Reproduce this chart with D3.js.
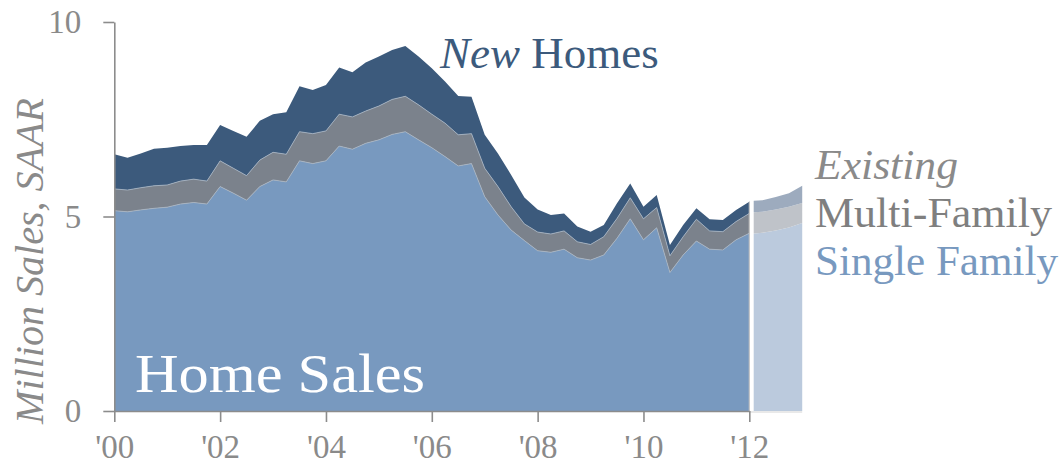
<!DOCTYPE html>
<html>
<head>
<meta charset="utf-8">
<script src="https://d3js.org/d3.v7.min.js"></script>
<style>
  body { margin: 0; background: #fff; }
  text { font-family: "Liberation Serif", "DejaVu Serif", serif; }
</style>
</head>
<body>
<svg width="1064" height="470"></svg>
<script>

// quarterly sales, million units SAAR
var quarters = [2000, 2000.25, 2000.5, 2000.75, 2001, 2001.25, 2001.5, 2001.75,
  2002, 2002.25, 2002.5, 2002.75, 2003, 2003.25, 2003.5, 2003.75,
  2004, 2004.25, 2004.5, 2004.75, 2005, 2005.25, 2005.5, 2005.75,
  2006, 2006.25, 2006.5, 2006.75, 2007, 2007.25, 2007.5, 2007.75,
  2008, 2008.25, 2008.5, 2008.75, 2009, 2009.25, 2009.5, 2009.75,
  2010, 2010.25, 2010.5, 2010.75, 2011, 2011.25, 2011.5, 2011.75, 2012];

var singleFamily = [5.15, 5.12, 5.17, 5.21, 5.24, 5.32, 5.36, 5.32,
  5.77, 5.60, 5.42, 5.77, 5.94, 5.89, 6.43, 6.36,
  6.43, 6.81, 6.73, 6.88, 6.97, 7.11, 7.18, 6.97,
  6.77, 6.54, 6.30, 6.36, 5.51, 5.04, 4.65, 4.38,
  4.12, 4.08, 4.16, 3.94, 3.88, 4.01, 4.44, 4.94,
  4.40, 4.71, 3.56, 4.01, 4.37, 4.16, 4.14, 4.40, 4.57];

var multiFamily = [0.56, 0.56, 0.57, 0.58, 0.57, 0.59, 0.60, 0.59,
  0.66, 0.64, 0.63, 0.68, 0.71, 0.71, 0.75, 0.77,
  0.77, 0.82, 0.83, 0.83, 0.87, 0.90, 0.91, 0.90,
  0.86, 0.86, 0.80, 0.77, 0.73, 0.73, 0.60, 0.43,
  0.48, 0.47, 0.47, 0.41, 0.40, 0.47, 0.51, 0.54,
  0.54, 0.52, 0.43, 0.47, 0.56, 0.47, 0.47, 0.47, 0.51];

var newHomes = [0.89, 0.83, 0.88, 0.95, 0.96, 0.90, 0.88, 0.93,
  0.92, 0.96, 1.00, 1.01, 0.98, 1.08, 1.17, 1.12,
  1.18, 1.20, 1.15, 1.25, 1.27, 1.27, 1.29, 1.24,
  1.18, 1.07, 1.00, 0.95, 0.86, 0.85, 0.82, 0.68,
  0.58, 0.49, 0.45, 0.39, 0.33, 0.30, 0.39, 0.37,
  0.31, 0.32, 0.28, 0.30, 0.28, 0.30, 0.30, 0.30, 0.30];

// outlook segment after 2012
var outlookQuarters = [2012, 2012.25, 2012.5, 2012.75, 2013];
var outlookSingle = [4.55, 4.58, 4.64, 4.72, 4.83];
var outlookMulti = [0.55, 0.54, 0.54, 0.53, 0.52];
var outlookNew = [0.30, 0.30, 0.32, 0.35, 0.44];

var yTicks = [0, 5, 10];
var xTicks = [2000, 2002, 2004, 2006, 2008, 2010, 2012];
var xTickLabels = ["'00", "'02", "'04", "'06", "'08", "'10", "'12"];

var keys = ["single", "multi", "fresh"];
var colors = {single: "#7899bf", multi: "#7b828c", fresh: "#3c5a7c"};
var lightColors = {single: "#bbcadd", multi: "#bfc3c9", fresh: "#9dabbe"};

var svg = d3.select("svg");

// scales
var x = d3.scaleLinear().domain([2000, 2012]).range([114.3, 749.3]);
var y = d3.scaleLinear().domain([0, 10]).range([411, 22]);

function rows(qs, s, m, n) {
  return qs.map(function(q, i) {
    return {q: q, single: s[i], multi: m[i], fresh: n[i]};
  });
}

var stack = d3.stack().keys(keys);
var mainLayers = stack(rows(quarters, singleFamily, multiFamily, newHomes));
var outLayers = stack(rows(outlookQuarters, outlookSingle, outlookMulti, outlookNew));

var area = d3.area()
  .x(function(d) { return x(d.data.q); })
  .y0(function(d) { return y(d[0]); })
  .y1(function(d) { return y(d[1]); });

var topLine = d3.line()
  .x(function(d) { return x(d.data.q); })
  .y(function(d) { return y(d[1]); });

// outlook areas (lighter)
svg.append("g").selectAll("path")
  .data(outLayers)
  .enter().append("path")
  .attr("d", area)
  .attr("fill", function(d) { return lightColors[d.key]; });

// gap between history and outlook
svg.append("line")
  .attr("x1", x(2012) + 2.2).attr("x2", x(2012) + 2.2)
  .attr("y1", y(0)).attr("y2", y(10))
  .attr("stroke", "#fff").attr("stroke-width", 4.4);

// light baseline under the outlook
svg.append("line")
  .attr("x1", x(2012)).attr("x2", x(2013))
  .attr("y1", y(0) + 1).attr("y2", y(0) + 1)
  .attr("stroke", "#d4d4d4").attr("stroke-width", 1.2);

// history areas
svg.append("g").selectAll("path")
  .data(mainLayers)
  .enter().append("path")
  .attr("d", area)
  .attr("fill", function(d) { return colors[d.key]; });

// thin light seams between layers
svg.append("g").selectAll("path")
  .data(mainLayers.slice(0, 2))
  .enter().append("path")
  .attr("d", topLine)
  .attr("fill", "none")
  .attr("stroke", "#aab6c4")
  .attr("stroke-width", 0.8);

// separator at '12
svg.append("line")
  .attr("x1", x(2012)).attr("x2", x(2012))
  .attr("y1", y(0)).attr("y2", y(mainLayers[2][quarters.length - 1][1]))
  .attr("stroke", "#c4c4c4").attr("stroke-width", 1.2);

// axes
svg.append("g")
  .attr("transform", "translate(" + x(2000) + ",0)")
  .call(d3.axisLeft(y).tickValues(yTicks).tickSize(11).tickSizeOuter(0).tickPadding(22));

svg.append("g")
  .attr("transform", "translate(0," + y(0) + ")")
  .call(d3.axisBottom(x).tickValues(xTicks).tickSize(11).tickSizeOuter(0).tickPadding(13)
    .tickFormat(function(d, i) { return xTickLabels[i]; }));

svg.selectAll(".domain, .tick line")
  .attr("stroke", "#8c8c8c")
  .attr("stroke-width", 1.6);

svg.selectAll(".tick text")
  .attr("fill", "#8a8a8a")
  .style("font-size", "33px")
  .style("font-family", "'Liberation Serif', serif");

// y axis title
svg.append("text")
  .attr("transform", "translate(43,261) rotate(-90)")
  .attr("text-anchor", "middle")
  .attr("fill", "#8a8a8a")
  .attr("textLength", 326)
  .attr("lengthAdjust", "spacingAndGlyphs")
  .style("font-size", "40px")
  .style("font-style", "italic")
  .text("Million Sales, SAAR");

// chart title inside the area
svg.append("text")
  .attr("x", 135).attr("y", 392)
  .attr("fill", "#fff")
  .attr("textLength", 290)
  .attr("lengthAdjust", "spacingAndGlyphs")
  .style("font-size", "55px")
  .text("Home Sales");

// series labels
var newLabel = svg.append("text")
  .attr("x", 440).attr("y", 68)
  .attr("fill", "#3c5a7c")
  .style("font-size", "45px");
newLabel.append("tspan").style("font-style", "italic").text("New");
newLabel.append("tspan").text(" Homes");

svg.append("text")
  .attr("x", 815).attr("y", 179)
  .attr("fill", "#8a8a8a")
  .attr("textLength", 143)
  .attr("lengthAdjust", "spacingAndGlyphs")
  .style("font-size", "42px")
  .style("font-style", "italic")
  .text("Existing");

svg.append("text")
  .attr("x", 815).attr("y", 227)
  .attr("fill", "#7f7f7f")
  .attr("textLength", 237)
  .attr("lengthAdjust", "spacingAndGlyphs")
  .style("font-size", "42px")
  .text("Multi-Family");

svg.append("text")
  .attr("x", 815).attr("y", 275)
  .attr("fill", "#7899bf")
  .attr("textLength", 243)
  .attr("lengthAdjust", "spacingAndGlyphs")
  .style("font-size", "42px")
  .text("Single Family");

</script>
</body>
</html>
